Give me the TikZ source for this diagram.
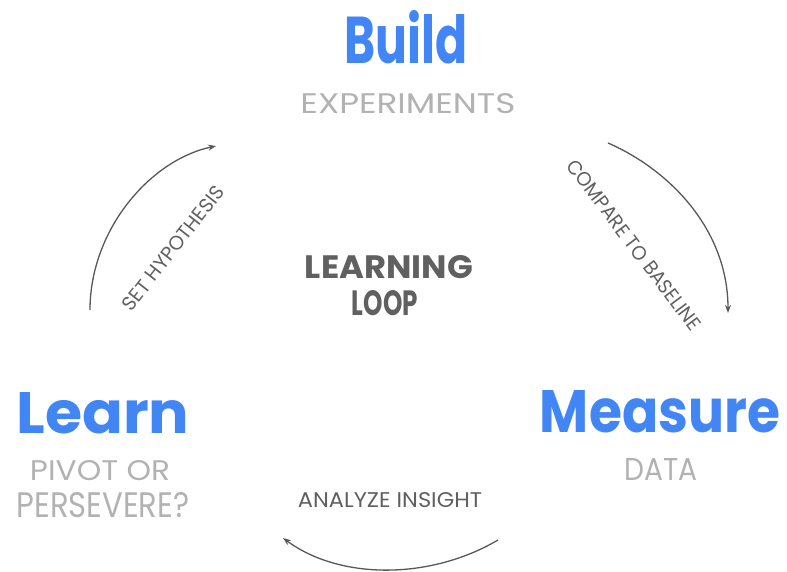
\documentclass[tikz,border=0pt]{standalone}
\usepackage{fontspec}
\setmainfont{Poppins}
\usetikzlibrary{arrows.meta}

\definecolor{loopblue}{RGB}{66,133,244}
\definecolor{subgray}{RGB}{178,178,178}
\definecolor{labelgray}{RGB}{96,96,96}
\definecolor{arrowgray}{RGB}{88,88,88}

% box text to a given width and height (in pt)
\newcommand{\fitbox}[3]{\resizebox{#1pt}{#2pt}{#3}}

\begin{document}
\begin{tikzpicture}[x=1pt,y=-1pt,
  title/.style={text=loopblue,font=\bfseries,inner sep=0pt,anchor=base},
  sub/.style={text=subgray,inner sep=0pt,anchor=base},
  centre/.style={text=labelgray,font=\bfseries,inner sep=0pt,anchor=base},
  steplabel/.style={text=labelgray,inner sep=0pt},
  flow/.style={draw=arrowgray,line width=1.3pt,
    -{Stealth[length=8pt,width=6pt]}}
]
\useasboundingbox (0,0) rectangle (787,571);

% stage titles
\node[title] (build)   at (406,63)  {\fitbox{123}{53}{Build}};
\node[title] (learn)   at (103,433) {\fitbox{173}{41}{Learn}};
\node[title] (measure) at (660,432) {\fitbox{240}{42}{Measure}};

% stage subtitles
\node[sub] (buildsub)   at (408,113) {\fitbox{215}{20}{EXPERIMENTS}};
\node[sub] (learnsub1)  at (100,480) {\fitbox{140}{20}{PIVOT OR}};
\node[sub] (learnsub2)  at (103,517) {\fitbox{173}{25}{PERSEVERE?}};
\node[sub] (measuresub) at (661,480) {\fitbox{73}{22}{DATA}};

% centre caption
\node[centre] (loop1) at (389,278) {\fitbox{168}{23}{LEARNING}};
\node[centre] (loop2) at (385,315) {\fitbox{66}{25}{LOOP}};

% arc end points
\coordinate (a1s) at (90,310);
\coordinate (a1e) at (216,146);
\coordinate (a2s) at (608,143);
\coordinate (a2e) at (728,313);
\coordinate (a3s) at (498,540);
\coordinate (a3e) at (283,538);

% connecting arcs
\draw[flow] (a1s) .. controls (90,230) and (150,160) .. (a1e);
\draw[flow] (a2s) .. controls (670,170) and (728,230) .. (a2e);
\draw[flow] (a3s) .. controls (430,580) and (340,580) .. (a3e);

% arc labels
\node[steplabel,rotate=52]  (hyp)  at (173,248) {\fitbox{152}{14}{SET HYPOTHESIS}};
\node[steplabel,rotate=-53] (base) at (634,245) {\fitbox{208}{14}{COMPARE TO BASELINE}};
\node[steplabel,anchor=base] (ins) at (390,507) {\fitbox{184}{15}{ANALYZE INSIGHT}};

\end{tikzpicture}
\end{document}
